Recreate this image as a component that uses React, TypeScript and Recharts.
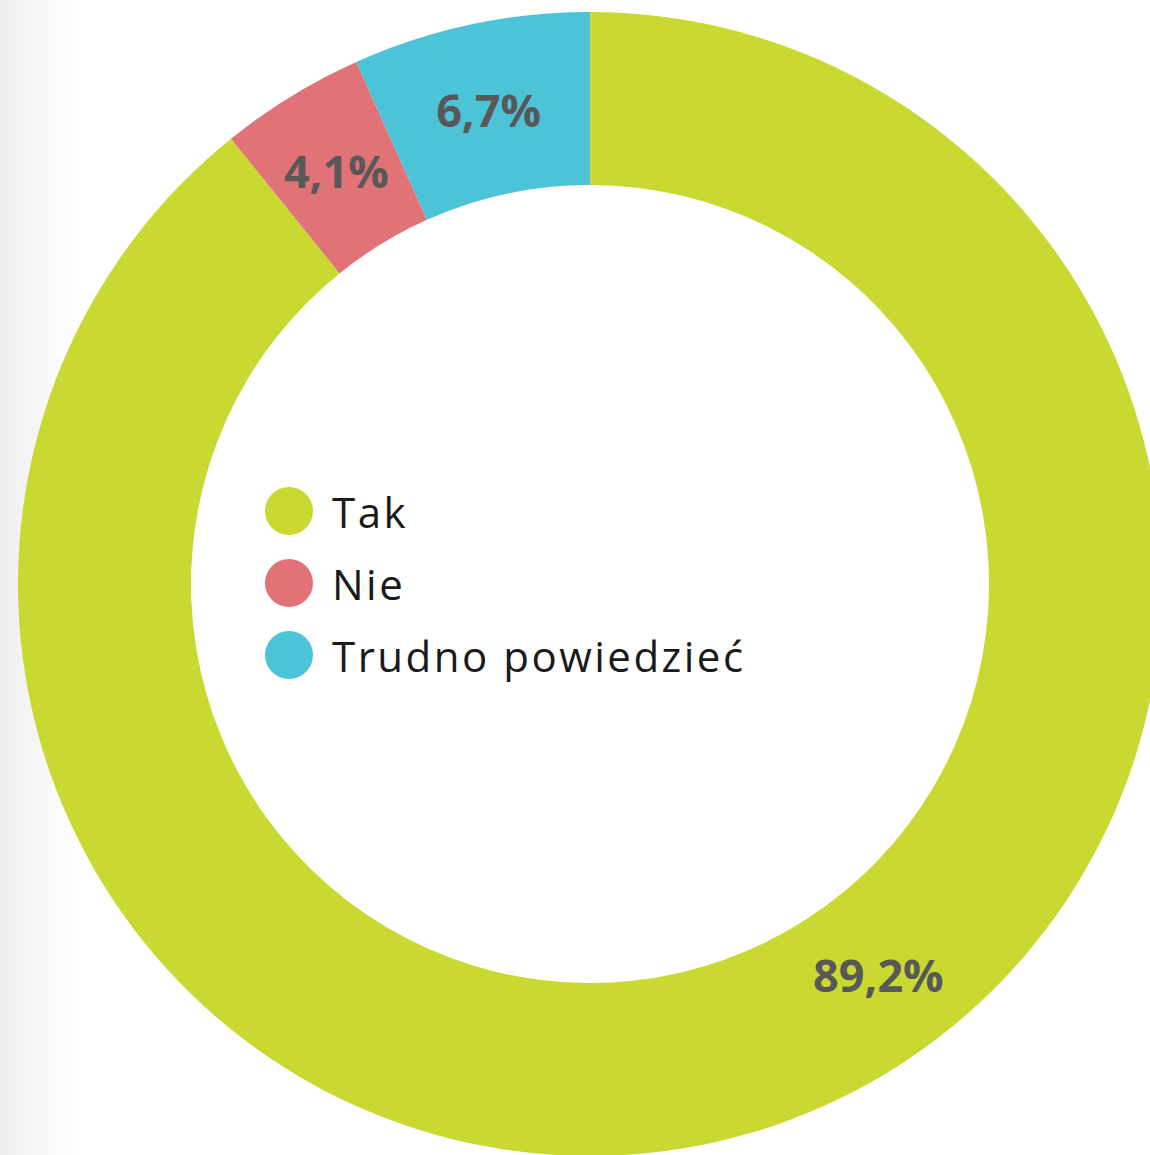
import React from 'react';
import { PieChart, Pie, Cell } from 'recharts';

const categories = ['Tak', 'Nie', 'Trudno powiedzieć'];
const values = [89.2, 4.1, 6.7];
const colors = ['#c9d931', '#e07278', '#4dc3d8'];
// extra angular shift (degrees) for label placement of each slice
const labelShift = [17, 0, 0];

const data = categories.map((name, i) => ({ name, value: values[i] }));

const RAD = Math.PI / 180;

const renderLabel = (props: any) => {
  const { cx, cy, midAngle, innerRadius, outerRadius, index, value } = props;
  const a = (midAngle + labelShift[index]) * RAD;
  const r = (innerRadius + outerRadius) / 2;
  const x = cx + r * Math.cos(-a);
  const y = cy + r * Math.sin(-a);
  return (
    <text
      x={x}
      y={y}
      textAnchor="middle"
      dominantBaseline="central"
      fill="#585858"
      fontFamily="'Open Sans', sans-serif"
      fontWeight={700}
      fontSize={45}
    >
      {value.toFixed(1).replace('.', ',') + '%'}
    </text>
  );
};

export default function App() {
  return (
    <div
      style={{
        position: 'fixed',
        left: 0,
        top: 0,
        width: 1150,
        height: 1155,
        background: 'linear-gradient(to right, #ededed 0px, #f7f7f7 40px, #ffffff 80px)',
      }}
    >
      <PieChart width={1150} height={1155} margin={{ top: 0, right: 0, bottom: 0, left: 0 }}>
        <Pie
          data={data}
          dataKey="value"
          nameKey="name"
          cx={590}
          cy={584}
          innerRadius={399}
          outerRadius={572}
          startAngle={90}
          endAngle={-270}
          stroke="none"
          label={renderLabel}
          labelLine={false}
          isAnimationActive={false}
        >
          {data.map((d, i) => (
            <Cell key={d.name} fill={colors[i]} />
          ))}
        </Pie>
      </PieChart>
      <div style={{ position: 'absolute', left: 265, top: 475 }}>
        {data.map((d, i) => (
          <div key={d.name} style={{ display: 'flex', alignItems: 'center', height: 72 }}>
            <div
              style={{
                width: 48,
                height: 48,
                borderRadius: '50%',
                background: colors[i],
                marginRight: 19,
              }}
            />
            <span
              style={{
                fontFamily: "'Open Sans', sans-serif",
                fontSize: 42,
                letterSpacing: 2.5,
                color: '#1a1a1a',
              }}
            >
              {d.name}
            </span>
          </div>
        ))}
      </div>
    </div>
  );
}
